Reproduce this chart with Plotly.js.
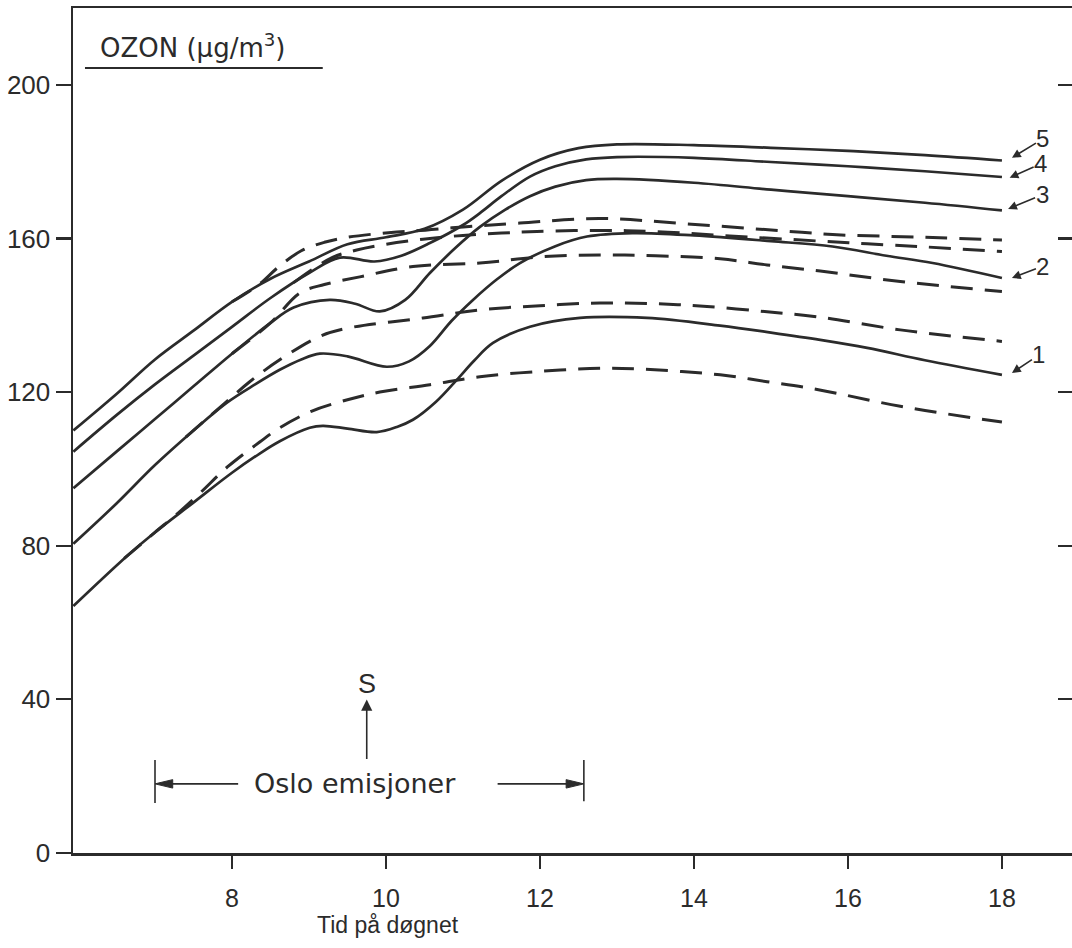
<!DOCTYPE html>
<html>
<head>
<meta charset="utf-8">
<script src="https://cdn.plot.ly/plotly-3.0.1.min.js"></script>
</head>
<body style="margin:0;padding:0;background:#fff">
<div id="chart" style="width:1072px;height:948px"></div>
<script>
// ---- Data (time of day in hours, ozone in µg/m3) ----
// Solid curves 1..5 (with Oslo emissions)
const hours1 = [5.94, 6.63, 7, 7.49, 8, 8.36, 8.62, 9.01, 9.18, 9.5, 9.88, 10.15, 10.35, 10.65, 10.92, 11.15, 11.39, 11.87, 12.52, 13.39, 14.34, 15, 15.64, 16.25, 17, 18];
const ozon1  = [64.3, 77.2, 83.5, 91.1, 99, 104, 107.2, 110.7, 111.2, 110.5, 109.6, 111, 112.8, 117.5, 123.2, 128.3, 132.8, 137, 139.3, 139.3, 137.3, 135.5, 133.6, 131.5, 128.3, 124.5];

const hours2 = [5.94, 6.5, 7, 7.5, 7.93, 8.3, 8.62, 8.9, 9.14, 9.5, 10.01, 10.3, 10.57, 10.85, 11.13, 11.45, 11.74, 12.2, 12.61, 13.2, 14, 15, 15.8, 16.5, 17.1, 18];
const ozon2  = [80.5, 91, 101, 110, 117.2, 122, 125.8, 128.5, 130, 129.3, 126.6, 128, 132, 138.5, 144, 149.5, 153.6, 158, 160.5, 161.4, 160.8, 159.3, 157.9, 155.5, 153.6, 149.7];

const hours3 = [5.94, 6.5, 7, 7.5, 8, 8.5, 8.8, 9.27, 9.6, 9.92, 10.25, 10.57, 10.9, 11.22, 11.55, 11.87, 12.2, 12.6, 13, 14, 15, 16, 17, 18];
const ozon3  = [95, 104.5, 113, 121.5, 130, 138, 142, 144, 143, 141, 144, 151, 157.5, 163, 167.5, 171, 173.5, 175.2, 175.5, 174.5, 172.7, 171, 169.3, 167.3];

const hours4 = [5.94, 6.5, 7, 7.5, 8, 8.5, 9, 9.4, 9.85, 10.2, 10.57, 11, 11.22, 11.5, 11.87, 12.2, 12.6, 13, 14, 15, 16, 17, 18];
const ozon4  = [104.5, 114, 122, 129.5, 137, 144.5, 151, 155, 154, 155.5, 158.8, 163.5, 166.6, 171, 176.1, 178.8, 180.6, 181.2, 181, 179.9, 178.8, 177.5, 176];

const hours5 = [5.94, 6.5, 7, 7.5, 8, 8.5, 9, 9.5, 10, 10.5, 11, 11.5, 12, 12.5, 13, 14, 15, 16, 17, 18];
const ozon5  = [110, 119.5, 128.5, 136, 143.5, 149.5, 154, 158.5, 160.3, 162.5, 167.5, 175, 180.5, 183.5, 184.5, 184.3, 183.6, 182.8, 181.7, 180.3];

// Dashed curves 1..5 (without Oslo emissions)
const dHours1 = [6.6, 7, 7.3, 7.6, 7.94, 8.36, 8.62, 9.03, 9.5, 9.92, 10.57, 11.22, 12, 12.78, 13.3, 14.34, 14.95, 15.6, 16.68, 18];
const dOzon1  = [76.7, 83.5, 88.5, 94, 100.5, 107, 110.7, 115, 118, 120, 121.9, 124, 125.4, 126.2, 126, 124.5, 122.7, 120.7, 116.3, 112.2];

const dHours2 = [7.4, 7.93, 8.23, 8.62, 9.14, 9.49, 10.48, 11.22, 12, 12.78, 13.5, 14.17, 14.95, 15.6, 16.68, 18];
const dOzon2  = [108.3, 117.5, 122.7, 128.4, 134.5, 136.6, 139.3, 141.4, 142.5, 143.2, 143, 142.3, 140.9, 139.6, 136.2, 133.2];

const dHours3 = [8.0, 8.5, 8.88, 9.2, 9.66, 10.35, 11.22, 12, 12.78, 13.5, 14.34, 14.95, 15.64, 16.68, 18];
const dOzon3  = [130, 138, 145.8, 148, 150, 152.7, 153.6, 155.2, 155.7, 155.5, 154.7, 153.1, 151.5, 148.8, 146.2];

const dHours4 = [8.8, 9.3, 9.62, 10, 10.48, 11, 11.5, 11.96, 12.78, 13.5, 14.34, 15.64, 16.25, 17, 18];
const dOzon4  = [148.5, 155, 157, 158.5, 159.8, 160.8, 161.4, 161.8, 162.1, 161.8, 160.8, 159.3, 158.6, 157.8, 156.6];

const dHours5 = [8.0, 8.35, 8.6, 8.9, 9.2, 9.5, 10.14, 10.4, 11, 11.74, 12.78, 13.9, 15.4, 15.8, 17, 18];
const dOzon5  = [143.5, 148, 152.5, 156.8, 159, 160.3, 161.7, 162, 163, 164, 165.2, 163.8, 161.6, 161, 160.3, 159.6];

// Tick labels / text
const xTicks = [8, 10, 12, 14, 16, 18];
const yTicks = [0, 40, 80, 120, 160, 200];
const curveLabels = ['1', '2', '3', '4', '5'];

// ---- Plot ----
const INK = '#2b2b2b';
const FONT = 'Liberation Sans, Arial, sans-serif';
const WIDE = 'DejaVu Sans, Liberation Sans, sans-serif';

const solid = [[hours1, ozon1], [hours2, ozon2], [hours3, ozon3], [hours4, ozon4], [hours5, ozon5]];
const dashed = [[dHours1, dOzon1], [dHours2, dOzon2], [dHours3, dOzon3], [dHours4, dOzon4], [dHours5, dOzon5]];

const traces = [];
solid.forEach((s, i) => traces.push({
  x: s[0], y: s[1], mode: 'lines', type: 'scatter', name: 'Kurve ' + curveLabels[i],
  // the top curve is placed on the (identical) right-hand axis so that its tick marks are drawn
  yaxis: i === 4 ? 'y2' : 'y',
  line: { color: INK, width: 2.7, shape: 'spline', smoothing: 1 }, hoverinfo: 'x+y'
}));
dashed.forEach((s, i) => traces.push({
  x: s[0], y: s[1], mode: 'lines', type: 'scatter', name: 'Kurve ' + curveLabels[i] + ' (stiplet)',
  line: { color: INK, width: 3, shape: 'spline', smoothing: 1, dash: '22px,12px' }, hoverinfo: 'x+y'
}));

// curve-number labels with small arrows at right end
const labelHeads = [[18.13, 125], [18.13, 149.7], [18.08, 167.7], [18.1, 175.8], [18.13, 181]];
const labelOffsets = [[27, -18], [31, -12], [34, -14], [31, -14], [31, -19]];

const annotations = [];
curveLabels.forEach((lab, i) => annotations.push({
  x: labelHeads[i][0], y: labelHeads[i][1], xref: 'x', yref: 'y',
  text: lab, showarrow: true, ax: labelOffsets[i][0], ay: labelOffsets[i][1],
  arrowhead: 2, arrowsize: 1.1, arrowwidth: 1.6, arrowcolor: INK, standoff: 0, borderpad: 0,
  font: { family: FONT, size: 24, color: INK }
}));

annotations.push(
  { xref: 'paper', yref: 'paper', x: 0.025, y: 0.955, xanchor: 'left', yanchor: 'middle', showarrow: false,
    text: 'OZON (µg/m<sup>3</sup>)',
    font: { family: WIDE, size: 26, color: INK } },
  { xref: 'x', yref: 'paper', x: 10.03, y: -0.085, xanchor: 'center', yanchor: 'middle', showarrow: false,
    text: 'Tid på døgnet', font: { family: FONT, size: 23, color: INK } },
  // "S" with an upward arrow pointing at it
  { xref: 'x', yref: 'y', x: 9.75, y: 24.5, ax: 9.75, ay: 44, axref: 'x', ayref: 'y', text: 'S',
    showarrow: true, arrowside: 'start', startarrowhead: 2, startarrowsize: 1.4, arrowwidth: 1.6,
    arrowcolor: INK, startstandoff: 0, borderpad: 0,
    font: { family: FONT, size: 27, color: INK } },
  { xref: 'x', yref: 'y', x: 9.6, y: 18, showarrow: false,
    text: 'Oslo emisjoner',
    font: { family: WIDE, size: 27, color: INK } }
);

const shapes = [
  // underline of the y-axis label
  { type: 'line', xref: 'paper', yref: 'paper', x0: 0.012, x1: 0.25, y0: 0.929, y1: 0.929,
    line: { color: INK, width: 2 } },
  // end bars of the "Oslo emisjoner" span
  { type: 'line', xref: 'x', yref: 'y', x0: 7.0, x1: 7.0, y0: 13.0, y1: 24.2, line: { color: INK, width: 1.6 } },
  { type: 'line', xref: 'x', yref: 'y', x0: 12.57, x1: 12.57, y0: 13.5, y1: 24.2, line: { color: INK, width: 1.6 } },
  // span arrows
  { type: 'line', xref: 'x', yref: 'y', x0: 7.2, x1: 8.08, y0: 18, y1: 18, line: { color: INK, width: 1.6 } },
  { type: 'path', xref: 'x', yref: 'y', path: 'M 7.0 18 L 7.23 19.1 L 7.23 16.9 Z',
    fillcolor: INK, line: { color: INK, width: 1 } },
  { type: 'line', xref: 'x', yref: 'y', x0: 11.45, x1: 12.37, y0: 18, y1: 18, line: { color: INK, width: 1.6 } },
  { type: 'path', xref: 'x', yref: 'y', path: 'M 12.57 18 L 12.34 19.1 L 12.34 16.9 Z',
    fillcolor: INK, line: { color: INK, width: 1 } }
];

const layout = {
  width: 1072, height: 948,
  margin: { l: 73, r: 0, t: 8, b: 95 },
  paper_bgcolor: '#fff', plot_bgcolor: '#fff',
  showlegend: false,
  font: { family: FONT, color: INK },
  xaxis: {
    range: [5.935, 18.91], tickvals: xTicks, ticktext: xTicks.map(String),
    showgrid: false, zeroline: false, showline: true, mirror: true,
    linecolor: INK, linewidth: 2.5, ticks: 'outside', ticklen: 13, tickwidth: 2, tickcolor: INK,
    ticklabelstandoff: 8, tickfont: { family: FONT, size: 25, color: INK }
  },
  yaxis: {
    range: [0, 220], tickvals: yTicks, ticktext: yTicks.map(String),
    showgrid: false, zeroline: false, showline: true, mirror: false,
    linecolor: INK, linewidth: 2.5, ticks: 'outside', ticklen: 15, tickwidth: 2.2, tickcolor: INK,
    tickfont: { family: FONT, size: 26, color: INK }
  },
  yaxis2: {
    overlaying: 'y', side: 'right', anchor: 'x', range: [0, 220], tickvals: yTicks.slice(1),
    showgrid: false, zeroline: false, showline: false, showticklabels: false,
    ticks: 'inside', ticklen: 14, tickwidth: 2.2, tickcolor: INK
  },
  annotations: annotations,
  shapes: shapes
};

Plotly.newPlot('chart', traces, layout, { displayModeBar: false, staticPlot: true });
</script>
</body>
</html>
